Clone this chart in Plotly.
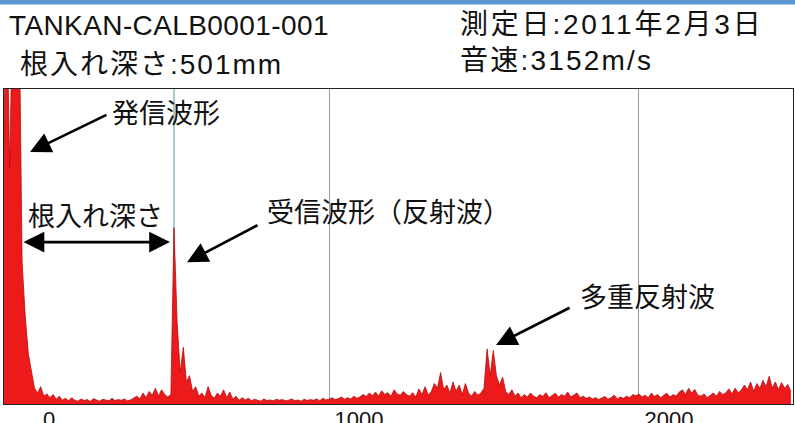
import numpy as np
import plotly.graph_objects as go

# ---- data (amplitude samples every 10 units) ----
sample_start, sample_step = -50, 10

transmit_wave = [80, 130, 75, 130, 110, 130, 45, 28, 16, 10,
                 5, 3.5, 5.5, 2.5, 3.2, 2, 3, 1.5, 2.5, 1.2]
depth_gap = [1.8, 1, 2, 1.2, 0.9, 1.6, 1.1, 1.4, 0.8, 1.7,
             1.2, 0.9, 1.5, 1.3, 1, 1.8, 1.1, 1.4, 1.2, 1.6,
             1, 1.3, 1.9, 2.5, 1.6, 3.5, 2, 4, 2.8, 5,
             2.5, 4.5, 3, 2.2, 3]
received_wave = [56, 26, 10, 18, 7,
                 9, 4, 5.5, 2.5, 3.5, 2, 5.5, 2.8, 1.8, 3.5,
                 2.5, 4.5, 2, 3.8, 1.5, 2.5, 1.2, 2, 1.3, 1.8]
mid_noise = [1, 1.5, 1.2, 0.9, 1.6, 1.1, 1.3, 1, 1.5, 1.2,
             1.4, 1, 1.2, 1.6, 1, 1.3, 0.9, 1.5, 1.1, 1.4,
             1.2, 1.6, 1, 1.8, 1.3, 1.5, 2, 1.4, 1.7, 2.2,
             1.5, 2, 1.6, 2.5, 1.8, 2.2, 3, 2.4, 3.5, 2.6,
             3.8, 2.5, 4.2, 3, 3.6, 2.4, 4.5, 3.2, 2.8, 4,
             3, 2.5, 3.6, 2.2, 4.8, 3, 5.5, 2.8, 4, 6.5,
             5, 10, 4.5, 6, 3.5, 7, 4, 6, 3, 6.5,
             3.5, 2.5, 4, 2.8, 3.5, 5]
multiple_reflection = [17.5, 9, 17, 9, 6, 8.5, 4]
tail_noise = [3, 4.5, 2.5, 3.5, 2, 3, 2.2,
              3.5, 2.5, 2, 3, 2.4, 3.6, 2, 2.8, 3.4, 2.2,
              3, 2.5, 3.8, 2.2, 2.8, 3.5, 2, 2.5, 1.8, 2.2,
              1.6, 2, 1.4, 1.8, 2.4, 1.5, 2, 2.8, 1.6, 2.2,
              1.8, 2.5, 2, 3, 2.6, 3.2, 2.2, 2.8, 2, 3.5,
              2.4, 3, 2, 2.8, 3.4, 2.2, 3, 2.5, 3.8, 4.5,
              3, 5, 3.5, 4.6, 2.8, 2.5, 3.2, 2, 2.8, 3.5,
              2.5, 4, 3, 3.5, 4.8, 3.2, 5, 3.6, 4.4, 6,
              4.5, 7, 4, 6.5, 5, 7.5, 5.5, 8.8, 5, 7,
              4.5, 6.8, 5, 6.2, 4]

amplitude = transmit_wave + depth_gap + received_wave + mid_noise + multiple_reflection + tail_noise
positions = sample_start + sample_step * np.arange(len(amplitude))

x_ticks = [0, 1000, 2000]
x_tick_labels = ["0", "1000", "2000"]
reflection_marker = 500

header_left = ["TANKAN-CALB0001-001", "根入れ深さ:501mm"]
header_right = ["測定日:2011年2月3日", "音速:3152m/s"]

FONT = "Liberation Sans, Arial, Noto Sans CJK JP, sans-serif"
CJK = "Noto Sans CJK JP, Liberation Sans, sans-serif"

PAPER_H = 404.0          # figure height minus bottom margin
PLOT_TOP = 89.0          # plot area top (px from figure top)


def py_to_paper(py):
    return (PAPER_H - py) / PAPER_H


def spaced(t, px):
    return f'<span style="letter-spacing:{px}px">{t}</span>'


fig = go.Figure()
fig.add_trace(go.Scatter(
    x=positions, y=amplitude, mode="lines", fill="tozeroy",
    line=dict(color="#b50d0d", width=0.8),
    fillcolor="#ec1a1a", hoverinfo="skip", showlegend=False,
))

fig.add_shape(type="line", xref="x", yref="y", x0=reflection_marker, x1=reflection_marker,
              y0=0, y1=100, line=dict(color="#86bfc2", width=1.5), layer="below")
# top blue band (figure pixels 0..4)
fig.add_shape(type="rect", xref="paper", yref="paper", x0=-0.01, x1=1.01,
              y0=py_to_paper(4.5), y1=1.0, line=dict(width=0),
              fillcolor="#5b97d1", layer="above")

ann = []
hdr = [
    (spaced(header_left[0], 0.4), 7, 25),
    (spaced(header_left[1], 2), 18, 64),
    (spaced(header_right[0], 2.8), 458, 24),
    (spaced(header_right[1], 2.2), 458, 60),
]
for t, px, py in hdr:
    ann.append(dict(text=t, xref="paper", yref="paper", x=(px - 4) / 789, y=py_to_paper(py),
                    xanchor="left", yanchor="middle", showarrow=False,
                    font=dict(family=FONT, size=28, color="#111")))

labels = [
    ("発信波形", 474, 92.7, "center"),
    ("根入れ深さ", 248, 60.3, "center"),
    ("受信波形（反射波）", 794, 61.3, "left"),
    ("多重反射波", 2029, 34.3, "center"),
]
for t, x, y, xa in labels:
    ann.append(dict(text=t, x=x, y=y, xref="x", yref="y", xanchor=xa, yanchor="middle",
                    showarrow=False, font=dict(family=CJK, size=27, color="#111")))

arrows = [
    (35.5, 80, 287, 92, "end"),
    (487, 51.4, 9.7, 51.4, "end+start"),
    (542, 45, 774, 57, "end"),
    (1539, 18.7, 1781, 30.8, "end"),
]
for x, y, ax, ay, side in arrows:
    ann.append(dict(text="", x=x, y=y, ax=ax, ay=ay, xref="x", yref="y", axref="x", ayref="y",
                    showarrow=True, arrowhead=2, arrowsize=1.6, arrowwidth=2.6, arrowcolor="#000",
                    arrowside=side, standoff=0, startstandoff=0))

fig.update_layout(
    width=795, height=423,
    margin=dict(l=4, r=2, t=0, b=19, autoexpand=False),
    paper_bgcolor="white", plot_bgcolor="white",
    annotations=ann,
    xaxis=dict(range=[-48.4, 2496.8], tickvals=x_ticks, ticktext=x_tick_labels,
               showgrid=True, gridcolor="#9a9a9a", gridwidth=1, zeroline=False,
               showline=True, mirror=True, linecolor="#222", linewidth=1.2,
               ticks="", tickfont=dict(family=FONT, size=22, color="#111"),
               ticklabelshift=30, ticklabelstandoff=-5, automargin=False),
    yaxis=dict(range=[0, 100], domain=[0, py_to_paper(PLOT_TOP)],
               showticklabels=False, showgrid=False, zeroline=False,
               showline=True, mirror=True, linecolor="#222", linewidth=1.2, ticks="",
               automargin=False),
)

fig.write_html("out.html", config={"displayModeBar": False},
               post_script="document.body.style.margin='0';")
